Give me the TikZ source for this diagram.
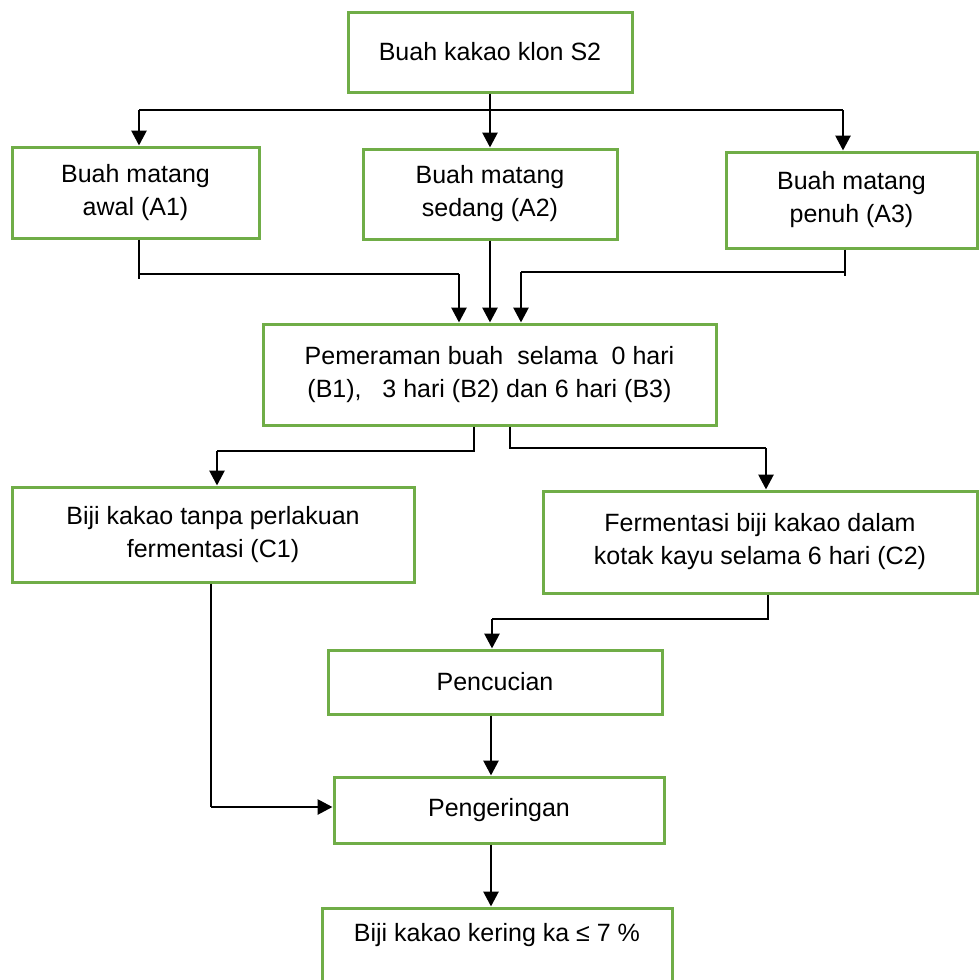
\documentclass[tikz,border=0pt]{standalone}
\usepackage{fontspec}
\setmainfont{Liberation Sans}
\usetikzlibrary{arrows.meta}
\definecolor{boxgreen}{RGB}{112,173,71}

\begin{document}
\begin{tikzpicture}[x=1pt,y=-1pt,line join=miter,
  box/.style={draw=boxgreen,line width=3pt,align=center,inner sep=0pt,
    font=\fontsize{25}{33}\selectfont},
  line/.style={line width=1.8pt},
  arr/.style={line width=2.8pt,-{Triangle[length=15pt,width=15pt]}}]
\useasboundingbox (0,0) rectangle (979,980);

%% ---------------- boxes ----------------
\node[box,minimum width=284pt,minimum height=80pt] (klon) at (490,52)
  {Buah kakao klon S2};
\node[box,minimum width=247pt,minimum height=91pt] (a1) at (135.5,192.5)
  {Buah matang\\awal (A1)};
\node[box,minimum width=254pt,minimum height=90pt] (a2) at (490,194)
  {Buah matang\\sedang (A2)};
\node[box,minimum width=251pt,minimum height=96pt] (a3) at (851.5,200)
  {Buah matang\\penuh (A3)};
\node[box,minimum width=453pt,minimum height=101pt] (peram) at (489.5,374.5)
  {Pemeraman buah\ \ selama\ \ 0 hari\\(B1),\ \ \ 3 hari (B2) dan 6 hari (B3)};
\node[box,minimum width=402pt,minimum height=95pt] (c1) at (213,534.5)
  {Biji kakao tanpa perlakuan\\fermentasi (C1)};
\node[box,minimum width=434pt,minimum height=102pt] (c2) at (760,542)
  {Fermentasi biji kakao dalam\\kotak kayu selama 6 hari (C2)};
\node[box,minimum width=334pt,minimum height=64pt] (cuci) at (495,682)
  {Pencucian};
\node[box,minimum width=330pt,minimum height=66pt] (kering) at (499,810)
  {Pengeringan};
\node[box,minimum width=350pt,minimum height=92pt] (akhir) at (497,954)
  {Biji kakao kering ka ≤ 7 \%\\\strut};

%% ---------------- fruit to the three ripeness levels ----------------
\coordinate (poros) at (491,0);
\coordinate (kiri) at (139,110);
\coordinate (kanan) at (843,110);
\draw[line] (kiri) -- (kanan);
\draw[arr] (kiri) -- (kiri |- a1.north);
\draw[arr] (klon.south) -- (a2.north);
\draw[arr] (kanan) -- (kanan |- a3.north);

%% ---------------- ripeness levels to ripening ----------------
\coordinate (sa1) at (139,274);
\coordinate (ta1) at (459,274);
\draw[line] (a1.south -| sa1) -- ([yshift=-5pt]sa1);
\draw[line] (sa1) -- (ta1);
\draw[arr] (ta1) -- (ta1 |- peram.north);
\draw[arr] (a2.south) -- (a2.south |- peram.north);
\coordinate (sa3) at (845,272);
\coordinate (ta3) at (521,272);
\draw[line] (a3.south -| sa3) -- ([yshift=-4pt]sa3);
\draw[line] (sa3) -- (ta3);
\draw[arr] (ta3) -- (ta3 |- peram.north);

%% ---------------- ripening to the two treatments ----------------
\coordinate (pk) at (474,451);
\coordinate (ck) at (217,451);
\draw[line] (peram.south -| pk) -- (pk) -- (ck);
\draw[arr] (ck) -- (ck |- c1.north);
\coordinate (pn) at (510,448);
\coordinate (cn) at (766,448);
\draw[line] (peram.south -| pn) -- (pn) -- (cn);
\draw[arr] (cn) -- (cn |- c2.north);

%% ---------------- washing and drying ----------------
\coordinate (c2b) at (768,619);
\coordinate (cb) at (492,619);
\draw[line] (c2.south -| c2b) -- (c2b) -- (cb);
\draw[arr] (cb) -- (cb |- cuci.north);
\coordinate (c1b) at (211,807);
\draw[line] (c1.south -| c1b) -- (c1b);
\draw[arr] (c1b) -- (c1b -| kering.west);
\draw[arr] (cuci.south -| poros) -- (kering.north -| poros);
\draw[arr] (kering.south -| poros) -- (akhir.north -| poros);

\end{tikzpicture}
\end{document}
